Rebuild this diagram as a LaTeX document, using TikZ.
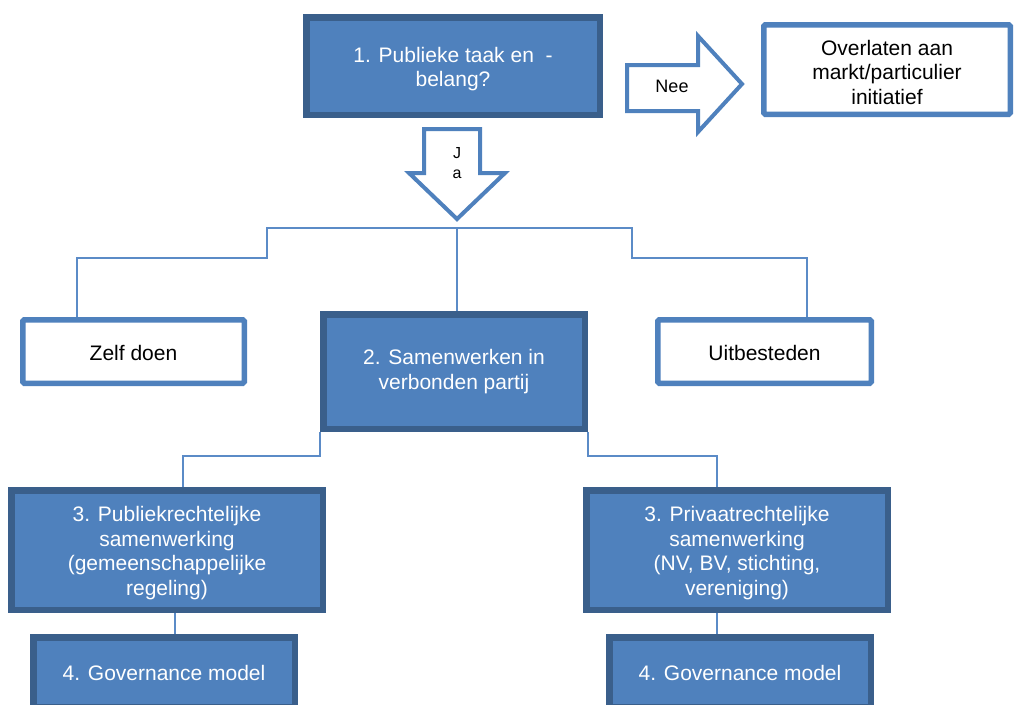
\documentclass[tikz,border=0pt]{standalone}
\usepackage{fontspec}
\setmainfont{Liberation Sans}
\usetikzlibrary{backgrounds}
\definecolor{bfill}{HTML}{4F81BD}
\definecolor{bdark}{HTML}{3A5F8B}
\definecolor{lineblue}{HTML}{5B8BC7}
\tikzset{
  bluebox/.style={draw=bdark, fill=bfill, line width=6.5pt, inner sep=0pt},
  whitebox/.style={draw=bfill, fill=white, line width=5.5pt, inner sep=0pt, rounded corners=1.5pt},
  boxtext/.style={align=center, inner sep=0pt, font=\fontsize{21}{24.5}\selectfont},
  wtext/.style={boxtext, text=white},
  dtext/.style={boxtext, text=black},
  conn/.style={draw=lineblue, line width=1.4pt},
  blockarrow/.style={draw=bfill, fill=white, line width=4pt, line join=miter},
  arrowlabel/.style={text=black, align=center, inner sep=0pt},
}
\begin{document}
\begin{tikzpicture}[x=1pt,y=-1pt]
\clip (0,0) rectangle (1014,704);
\useasboundingbox (0,0) rectangle (1014,704);

% boxes
\node[bluebox, minimum width=293.5pt, minimum height=97.5pt] (b1) at (453,66) {};
\node[wtext] (b1t) at ([yshift=-3pt]b1.center) {1. Publieke taak en~~-\\belang?};
\node[whitebox, minimum width=246.5pt, minimum height=89.5pt] (over) at (887,69.5) {};
\node[dtext] (overt) at ([yshift=-2.5pt]over.center) {Overlaten aan\\markt/particulier\\initiatief};
\node[whitebox, minimum width=221.5pt, minimum height=63.5pt] (zelf) at (133.5,351.5) {};
\node[dtext] (zelft) at ([yshift=-1pt]zelf.center) {Zelf doen};
\node[whitebox, minimum width=213.5pt, minimum height=63.5pt] (uit) at (764.5,351.5) {};
\node[dtext] (uitt) at ([yshift=-1pt]uit.center) {Uitbesteden};
\node[bluebox, minimum width=261.5pt, minimum height=114.5pt] (b2) at (454,371.5) {};
\node[wtext] (b2t) at ([yshift=0pt]b2.center) {2. Samenwerken in\\verbonden partij};
\node[bluebox, minimum width=311.5pt, minimum height=119.5pt] (p3l) at (167,550) {};
\node[wtext] (p3lt) at ([yshift=-3pt]p3l.center) {3. Publiekrechtelijke\\samenwerking\\(gemeenschappelijke\\regeling)};
\node[bluebox, minimum width=301.5pt, minimum height=119.5pt] (p3r) at (737,550) {};
\node[wtext] (p3rt) at ([yshift=-3pt]p3r.center) {3. Privaatrechtelijke\\samenwerking\\(NV, BV, stichting,\\vereniging)};
\node[bluebox, minimum width=261.5pt, minimum height=69.5pt] (p4l) at (164,672) {};
\node[wtext] (p4lt) at ([yshift=-1pt]p4l.center) {4. Governance model};
\node[bluebox, minimum width=261.5pt, minimum height=69.5pt] (p4r) at (740,672) {};
\node[wtext] (p4rt) at ([yshift=-1pt]p4r.center) {4. Governance model};

% block arrows
\draw[blockarrow] (424,129) -- (480,129) -- (480,173) -- (505,173) -- (457,219) -- (409,173) -- (424,173) -- cycle;
\node[arrowlabel, font=\fontsize{16}{20.5}\selectfont] (ja) at (457,163) {J\\a};
\draw[blockarrow] (627,65) -- (698,65) -- (698,36) -- (742,84) -- (698,132) -- (698,111) -- (627,111) -- cycle;
\node[arrowlabel, font=\fontsize{18}{21}\selectfont] (nee) at (672,86) {Nee};

% connectors
\begin{pgfonlayer}{background}
\coordinate (hub) at (457,228);
\coordinate (zl) at (77,258);
\coordinate (ur) at (807,258);
\coordinate (l3) at (183,456);
\coordinate (r3) at (717,456);
\draw[conn] (hub) -- (hub |- b2.north);
\draw[conn] (hub) -| (267,258) -- (zl) -- (zl |- zelf.north);
\draw[conn] (hub) -| (632,258) -- (ur) -- (ur |- uit.north);
\draw[conn] (b2.south west) |- (l3) -- (l3 |- p3l.north);
\draw[conn] (b2.south east) |- (r3) -- (r3 |- p3r.north);
\draw[conn] ([xshift=8pt]p3l.south) -- ([xshift=8pt]p3l.south |- p4l.north);
\draw[conn] ([xshift=-20pt]p3r.south) -- ([xshift=-20pt]p3r.south |- p4r.north);
\end{pgfonlayer}
\end{tikzpicture}
\end{document}
